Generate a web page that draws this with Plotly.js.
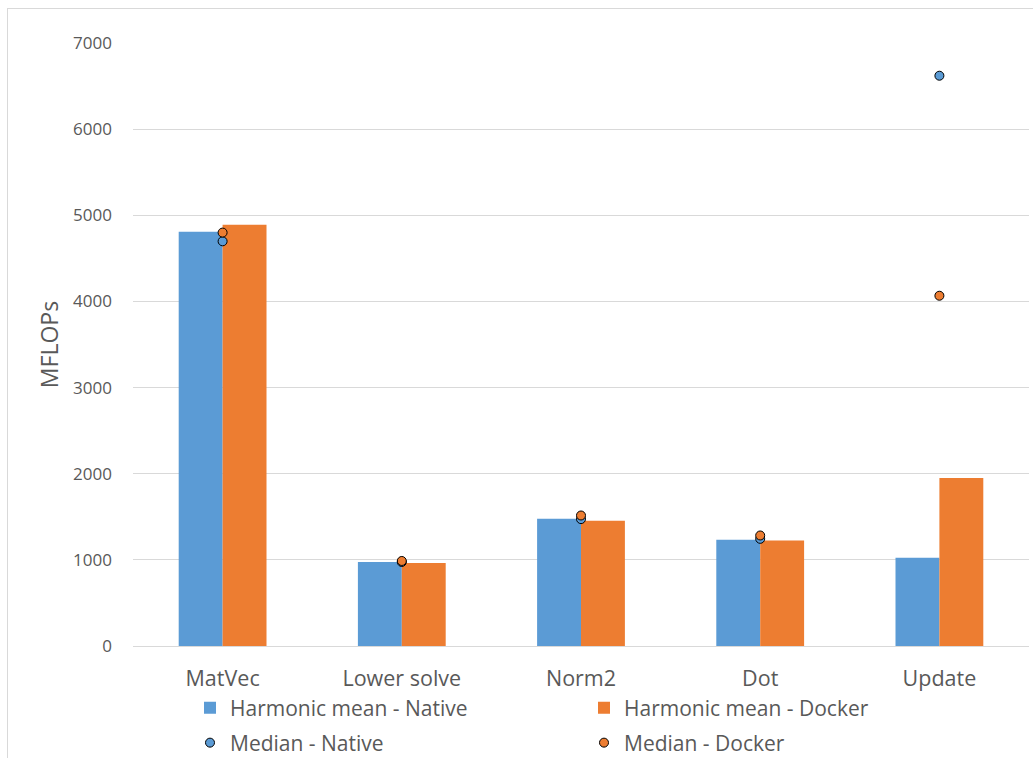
<!DOCTYPE html>
<html>
<head>
<meta charset="utf-8">
<script src="https://cdn.plot.ly/plotly-3.0.1.min.js"></script>
<style>
  html, body { margin: 0; padding: 0; background: #fff; }
  #chart { width: 1033px; height: 758px; }
  #frame { position: absolute; left: 7px; top: 8px; width: 1100px; height: 800px;
           border: 1px solid #d9d9d9; pointer-events: none; }
</style>
</head>
<body>
<div id="chart"></div>
<div id="frame"></div>
<script>
const categories = ["MatVec", "Lower solve", "Norm2", "Dot", "Update"];
const harmonicNative = [4810, 975, 1478, 1232, 1025];
const harmonicDocker = [4890, 963, 1455, 1225, 1950];
const medianNative = [4698, 975, 1473, 1244, 6620];
const medianDocker = [4799, 987, 1515, 1283, 4066];
const yTicks = [0, 1000, 2000, 3000, 4000, 5000, 6000, 7000];

const FONT = "'Open Sans', sans-serif";
const GREY = "#595959";
const BLUE = "#5B9BD5";
const ORANGE = "#ED7D31";

const traces = [
  { type: "bar", name: "Harmonic mean - Native", x: categories, y: harmonicNative,
    marker: { color: BLUE }, legend: "legend" },
  { type: "bar", name: "Harmonic mean - Docker", x: categories, y: harmonicDocker,
    marker: { color: ORANGE }, legend: "legend" },
  { type: "scatter", mode: "markers", name: "Median - Native", x: categories, y: medianNative,
    marker: { color: BLUE, size: 9, line: { color: "#000", width: 1 } }, legend: "legend2" },
  { type: "scatter", mode: "markers", name: "Median - Docker", x: categories, y: medianDocker,
    marker: { color: ORANGE, size: 9, line: { color: "#000", width: 1 } }, legend: "legend2" }
];

function legendAt(centerY) {
  return {
    orientation: "h", xref: "container", yref: "container",
    x: 190 / 1033, xanchor: "left", y: 1 - centerY / 758, yanchor: "middle",
    entrywidth: 349, entrywidthmode: "pixels",
    font: { size: 21, color: GREY, family: FONT },
    traceorder: "normal", itemwidth: 30, bgcolor: "rgba(0,0,0,0)"
  };
}

const layout = {
  width: 1033, height: 758,
  margin: { l: 133, r: 4, t: 43, b: 112 },
  paper_bgcolor: "#fff", plot_bgcolor: "#fff",
  font: { family: FONT, color: GREY, size: 18 },
  barmode: "group", bargap: 0.51, bargroupgap: 0,
  showlegend: true,
  xaxis: {
    type: "category", showgrid: false, showline: false, zeroline: false,
    ticks: "", tickfont: { size: 21.5, color: GREY, family: FONT }, ticklabelstandoff: 17
  },
  yaxis: {
    range: [0, 7000], tickvals: yTicks, ticktext: yTicks.map(String),
    showgrid: true, gridcolor: "#d9d9d9", gridwidth: 1,
    zeroline: true, zerolinecolor: "#d9d9d9", zerolinewidth: 1,
    showline: false, ticks: "", ticklabelstandoff: 20,
    tickfont: { size: 17, color: GREY, family: FONT },
    title: { text: "MFLOPs", font: { size: 23, color: GREY, family: FONT }, standoff: 8 }
  },
  legend: legendAt(708),
  legend2: legendAt(743)
};

Plotly.newPlot("chart", traces, layout, { displayModeBar: false, staticPlot: true });
</script>
</body>
</html>
